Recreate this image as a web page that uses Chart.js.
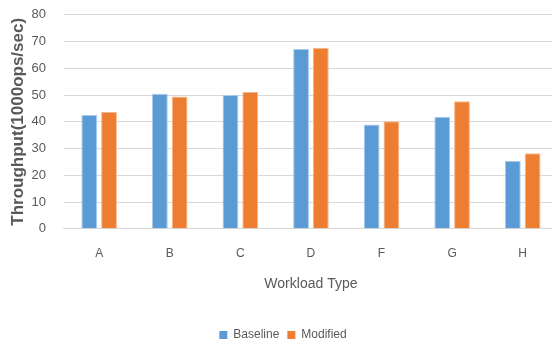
<!DOCTYPE html>
<html>
<head>
<meta charset="utf-8">
<script src="https://cdn.jsdelivr.net/npm/chart.js@4/dist/chart.umd.min.js"></script>
<style>
  html, body { margin: 0; padding: 0; background: #fff; overflow: hidden; }
  #wrap { width: 558px; height: 349px; }
</style>
</head>
<body>
<div id="wrap"><canvas id="tputChart"></canvas></div>
<script>
// values
const workloads = ['A', 'B', 'C', 'D', 'F', 'G', 'H'];
const baseline = [42.5, 50.5, 50.0, 67.2, 39.0, 41.9, 25.3];
const modified = [43.7, 49.5, 51.1, 67.7, 40.2, 47.7, 28.2];
const yTicks = [0, 10, 20, 30, 40, 50, 60, 70, 80];

const textGrey = '#595959';
const font = 'Liberation Sans';

const ctx = document.getElementById('tputChart').getContext('2d');
const tputChart = new Chart(ctx, {
    type: 'bar',
    data: {
        labels: workloads,
        datasets: [{
            label: 'Baseline',
            data: baseline,
            backgroundColor: '#5b9bd5',
            borderColor: '#a9c9ea',
            borderWidth: 1,
            barPercentage: 0.8,
            categoryPercentage: 0.56
        }, {
            label: 'Modified',
            data: modified,
            backgroundColor: '#ed7d31',
            borderColor: '#f5b68c',
            borderWidth: 1,
            barPercentage: 0.8,
            categoryPercentage: 0.56
        }]
    },
    options: {
        responsive: true,
        maintainAspectRatio: false,
        animation: false,
        layout: { padding: { top: 0, right: 0, left: 8, bottom: -2 } },
        plugins: {
            tooltip: { enabled: false },
            legend: {
                position: 'bottom',
                labels: {
                    color: textGrey,
                    font: { family: font, size: 12 },
                    boxWidth: 8,
                    boxHeight: 8,
                    padding: 8,
                    generateLabels: chart => chart.data.datasets.map((ds, i) => ({
                        text: ds.label,
                        fillStyle: ds.backgroundColor,
                        strokeStyle: ds.backgroundColor,
                        lineWidth: 0,
                        fontColor: textGrey,
                        datasetIndex: i
                    }))
                }
            }
        },
        scales: {
            x: {
                grid: { display: false },
                border: { color: '#d9d9d9' },
                ticks: { color: textGrey, font: { family: font, size: 12 }, padding: 10 },
                title: {
                    display: true,
                    text: 'Workload Type',
                    color: textGrey,
                    font: { family: font, size: 14 },
                    padding: { top: 5, bottom: 28 }
                }
            },
            y: {
                min: 0,
                max: 80,
                afterBuildTicks: axis => { axis.ticks = yTicks.map(v => ({ value: v })); },
                grid: { color: '#d9d9d9', drawTicks: true, tickLength: 11, tickColor: 'rgba(0,0,0,0)' },
                border: { display: false },
                ticks: { color: textGrey, font: { family: font, size: 13 }, padding: 7 },
                title: {
                    display: true,
                    text: 'Throughput(1000ops/sec)',
                    color: textGrey,
                    font: { family: font, size: 17, weight: 'bold' },
                    padding: { top: 0, bottom: -4 }
                }
            }
        }
    }
});
</script>
</body>
</html>
